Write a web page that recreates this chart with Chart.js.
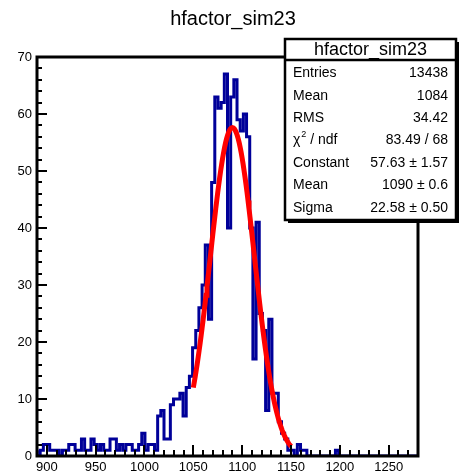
<!DOCTYPE html>
<html>
<head>
<meta charset="utf-8">
<script src="https://cdn.jsdelivr.net/npm/chart.js@4.4.0/dist/chart.umd.min.js"></script>
<style>
  html, body { margin: 0; padding: 0; background: #fff; }
</style>
</head>
<body>
<canvas id="histo" width="467" height="476"></canvas>
<script>
// histogram bins (low edge = binStart + i * binWidth), 120 bins 890..1280
var binStart = 890;
var binWidth = 3.25;
var counts = [
  1, 0, 1, 2, 2, 1, 1, 1, 0, 1,
  1, 2, 2, 1, 1, 3, 1, 1, 3, 2,
  1, 2, 1, 1, 3, 3, 1, 2, 1, 2,
  2, 1, 1, 2, 4, 1, 2, 2, 1, 7,
  8, 3, 3, 9, 10, 10, 11, 7, 12, 14,
  19, 22, 26, 30, 37, 24, 48, 63, 61, 62,
  67, 40, 63, 66, 59, 57, 60, 56, 40, 17,
  41, 25, 22, 8, 24, 11, 11, 6, 4, 3,
  1, 1, 0, 2, 1, 1, 0, 0, 0, 0,
  0, 0, 0, 0, 0, 1, 0, 0, 0, 0,
  0, 0, 0, 0, 0, 0, 0, 0, 0, 0,
  0, 0, 0, 0, 0, 0, 0, 0, 0, 0
];

// gaussian fit result (from the stats box)
var fitConstant = 57.63;
var fitMean = 1090;
var fitSigma = 22.58;
var fitFrom = 1050;
var fitTo = 1150;

var xTickLabels = [900, 950, 1000, 1050, 1100, 1150, 1200, 1250];
var yTickLabels = [0, 10, 20, 30, 40, 50, 60, 70];

var histTitle = 'hfactor_sim23';
var statLabels = ['Entries', 'Mean', 'RMS', 'chi2', 'Constant', 'Mean', 'Sigma'];
var statValues = ['13438', '1084', '34.42', '83.49 / 68', '57.63 \u00b1 1.57', '1090 \u00b1 0.6', '22.58 \u00b1 0.50'];

var FONT = '"Liberation Sans", Arial, Helvetica, sans-serif';

// step points for the histogram
var histPoints = counts.map(function (c, i) {
    return { x: binStart + i * binWidth, y: c };
});
histPoints.push({ x: binStart + counts.length * binWidth, y: counts[counts.length - 1] });

// fit curve points
var fitPoints = [];
for (var x = fitFrom; x <= fitTo; x += 1) {
    var d = (x - fitMean) / fitSigma;
    fitPoints.push({ x: x, y: fitConstant * Math.exp(-0.5 * d * d) });
}

// ROOT style frame, inner ticks, title and stats box
var rootFrame = {
    id: 'rootFrame',
    afterDraw: function (chart) {
        var ctx = chart.ctx;
        var a = chart.chartArea;
        var xs = chart.scales.x;
        var ys = chart.scales.y;
        ctx.save();
        ctx.strokeStyle = '#000';

        // minor + major ticks
        ctx.lineWidth = 2;
        ctx.beginPath();
        for (var v = 900; v <= xs.max; v += 10) {
            var px = Math.round(xs.getPixelForValue(v));
            var len = (v % 50 === 0) ? 11 : 6;
            ctx.moveTo(px, a.bottom);
            ctx.lineTo(px, a.bottom - len);
        }
        for (var w = 0; w <= ys.max; w += 2) {
            var py = Math.round(ys.getPixelForValue(w));
            var l2 = (w % 10 === 0) ? 10 : 5;
            ctx.moveTo(a.left, py);
            ctx.lineTo(a.left + l2, py);
        }
        ctx.stroke();

        // frame
        ctx.lineWidth = 3;
        ctx.strokeRect(a.left, a.top, a.right - a.left, a.bottom - a.top);

        // main title
        ctx.fillStyle = '#000';
        ctx.font = '20px ' + FONT;
        ctx.textAlign = 'center';
        ctx.textBaseline = 'middle';
        ctx.fillText(histTitle, 233, 19);

        // stats box
        var bx = 285, by = 39, bw = 171, bh = 181, ty = 60;
        ctx.fillStyle = '#000';
        ctx.fillRect(bx + 3, by + 3, bw, bh);
        ctx.fillStyle = '#fff';
        ctx.fillRect(bx, by, bw, bh);
        ctx.lineWidth = 2.5;
        ctx.strokeRect(bx, by, bw, bh);
        ctx.beginPath();
        ctx.moveTo(bx, ty);
        ctx.lineTo(bx + bw, ty);
        ctx.stroke();

        ctx.fillStyle = '#000';
        ctx.font = '18px ' + FONT;
        ctx.textAlign = 'center';
        ctx.fillText(histTitle, bx + bw / 2, 50);

        var rowY = [73, 96, 118, 140, 163, 185, 208];
        ctx.font = '14px ' + FONT;
        for (var i = 0; i < statLabels.length; i++) {
            ctx.textAlign = 'left';
            if (statLabels[i] === 'chi2') {
                ctx.fillText('\u03c7', 293, rowY[i]);
                var cw = ctx.measureText('\u03c7').width;
                ctx.font = '9px ' + FONT;
                ctx.fillText('2', 293 + cw + 1, rowY[i] - 5);
                ctx.font = '14px ' + FONT;
                ctx.fillText(' / ndf', 293 + cw + 6, rowY[i]);
            } else {
                ctx.fillText(statLabels[i], 293, rowY[i]);
            }
            ctx.textAlign = 'right';
            ctx.fillText(statValues[i], 448, rowY[i]);
        }
        ctx.restore();
    }
};

var ctx = document.getElementById('histo').getContext('2d');
var histChart = new Chart(ctx, {
    type: 'line',
    data: {
        datasets: [{
            label: 'fit',
            data: fitPoints,
            borderColor: '#ff0000',
            borderWidth: 5,
            pointRadius: 0,
            fill: false,
            order: 0
        }, {
            label: histTitle,
            data: histPoints,
            stepped: 'after',
            borderColor: '#000099',
            borderWidth: 3,
            pointRadius: 0,
            fill: false,
            order: 1
        }]
    },
    options: {
        responsive: false,
        animation: false,
        devicePixelRatio: 1,
        layout: { padding: { top: 57, right: 49, left: 0, bottom: 0 } },
        plugins: { legend: { display: false }, tooltip: { enabled: false } },
        scales: {
            x: {
                type: 'linear',
                min: 890,
                max: 1280,
                grid: { display: false, drawTicks: false },
                border: { display: false },
                afterBuildTicks: function (s) { s.ticks = xTickLabels.map(function (v) { return { value: v }; }); },
                afterFit: function (s) { s.height = 20; },
                ticks: {
                    color: '#000', font: { family: FONT, size: 13 }, padding: 4, maxRotation: 0, autoSkip: false,
                    callback: function (v) { return String(v); }
                }
            },
            y: {
                min: 0,
                max: 70,
                grid: { display: false, drawTicks: false },
                border: { display: false },
                afterBuildTicks: function (s) { s.ticks = yTickLabels.map(function (v) { return { value: v }; }); },
                afterFit: function (s) { s.width = 37; },
                ticks: {
                    color: '#000', font: { family: FONT, size: 13 }, padding: 5, autoSkip: false,
                    callback: function (v) { return String(v); }
                }
            }
        }
    },
    plugins: [rootFrame]
});
</script>
</body>
</html>
